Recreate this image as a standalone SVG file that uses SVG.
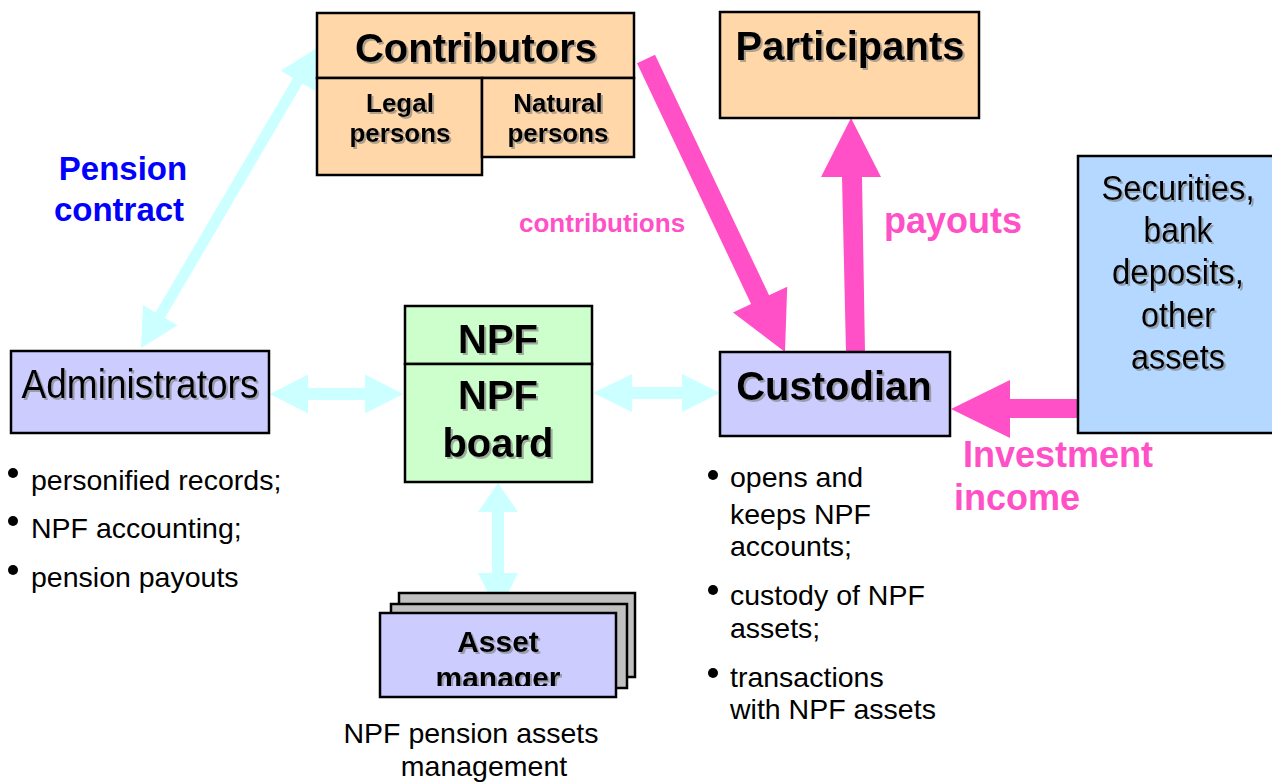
<svg xmlns="http://www.w3.org/2000/svg" width="1272" height="782" viewBox="0 0 1272 782">
  <defs>
    <filter id="shadow" x="-5%" y="-5%" width="115%" height="125%">
      <feDropShadow dx="2" dy="2" stdDeviation="0.6" flood-color="#7a7a7a" flood-opacity="0.6"/>
    </filter>
    <clipPath id="amClip">
      <rect x="380" y="613" width="236" height="73"/>
    </clipPath>
  </defs>
  <style>
    .box { stroke: #000; stroke-width: 2.5; }
    .peach { fill: #FFD7A8; }
    .lav { fill: #CCCCFF; }
    .green { fill: #CCFFCC; }
    .blue { fill: #B4D8FF; }
    .gray { fill: #C0C0C0; }
    .title { font-family: "Liberation Sans", Arial, sans-serif; font-weight: bold; fill: #000; text-anchor: middle; filter: url(#shadow); }
    .narrow { font-family: "Liberation Sans", Arial, sans-serif; fill: #000; text-anchor: middle; filter: url(#shadow); }
    .body { font-family: "Liberation Sans", Arial, sans-serif; font-size: 28.5px; fill: #000; }
    .pinklbl { font-family: "Liberation Sans", Arial, sans-serif; font-weight: bold; fill: #FF50C8; }
    .bluelbl { font-family: "Liberation Sans", Arial, sans-serif; font-weight: bold; fill: #0000FF; font-size: 33px; }
    .cyan { fill: #CCFFFF; }
    .pink { fill: #FF50C8; }
  </style>

  <rect width="1272" height="782" fill="#FFFFFF"/>

  <!-- connectors -->
  <g id="connectors">
    <!-- pension contract: contributors <-> administrators -->
    <polygon class="cyan" points="317,48 315.1,90.9 302.5,83.6 164.9,318 177.5,325.3 141,348 143,305.1 155.5,312.4 293.1,78 280.6,70.7"/>
    <!-- administrators <-> NPF -->
    <polygon class="cyan" points="270,394 308,374.5 308,388 365,388 365,374.5 403,394 365,413.5 365,400 308,400 308,413.5"/>
    <!-- NPF <-> custodian -->
    <polygon class="cyan" points="593,393 632,374 632,387 682,387 682,374 720,393 682,412 682,399 632,399 632,412"/>
    <!-- NPF board <-> asset manager -->
    <polygon class="cyan" points="498,483 518,512 504,512 504,573 518,573 498,613 478,573 492,573 492,512 478,512"/>
    <!-- contributions -->
    <polygon class="pink" points="655,54.7 769.1,295.3 787.2,286.7 785,352 733,312.5 751.1,303.9 637,63.3"/>
    <!-- payouts -->
    <polygon class="pink" points="846,352 865,352 862,177 881,177 851,118 821,177 842,177"/>
    <!-- investment income -->
    <polygon class="pink" points="951,409 1010,380 1010,399 1078,399 1078,418 1010,418 1010,438"/>
  </g>

  <!-- connector labels -->
  <text class="bluelbl" x="123" y="180" text-anchor="middle">Pension</text>
  <text class="bluelbl" x="119" y="221" text-anchor="middle">contract</text>
  <text class="pinklbl" x="519" y="232" font-size="26">contributions</text>
  <text class="pinklbl" x="884" y="233" font-size="36">payouts</text>
  <text class="pinklbl" x="963" y="467" font-size="36">Investment</text>
  <text class="pinklbl" x="954" y="510" font-size="36">income</text>

  <!-- contributors -->
  <g id="contributors">
    <rect class="box peach" x="317" y="13" width="317" height="65"/>
    <rect class="box peach" x="317" y="78" width="165" height="97"/>
    <rect class="box peach" x="482" y="78" width="152" height="79"/>
    <text class="title" x="476" y="62" font-size="40">Contributors</text>
    <text class="title" x="400" y="112" font-size="26">Legal</text>
    <text class="title" x="400" y="142" font-size="26">persons</text>
    <text class="title" x="558" y="112" font-size="26">Natural</text>
    <text class="title" x="558" y="142" font-size="26">persons</text>
  </g>

  <!-- participants -->
  <g id="participants">
    <rect class="box peach" x="720" y="12" width="259" height="106"/>
    <text class="title" x="850" y="60" font-size="40">Participants</text>
  </g>

  <!-- securities and other assets -->
  <g id="assets">
    <rect class="box blue" x="1078" y="156" width="210" height="277"/>
    <text class="narrow" x="1178" y="200" font-size="35" textLength="153" lengthAdjust="spacingAndGlyphs">Securities,</text>
    <text class="narrow" x="1178" y="242" font-size="35" textLength="69" lengthAdjust="spacingAndGlyphs">bank</text>
    <text class="narrow" x="1178" y="284" font-size="35" textLength="132" lengthAdjust="spacingAndGlyphs">deposits,</text>
    <text class="narrow" x="1178" y="327" font-size="35" textLength="74" lengthAdjust="spacingAndGlyphs">other</text>
    <text class="narrow" x="1178" y="369" font-size="35" textLength="94" lengthAdjust="spacingAndGlyphs">assets</text>
  </g>

  <!-- administrators -->
  <g id="administrators">
    <rect class="box lav" x="11" y="351" width="258" height="82"/>
    <text class="narrow" x="140" y="398" font-size="40" textLength="237" lengthAdjust="spacingAndGlyphs">Administrators</text>
  </g>
  <g id="administrators-duties" class="body">
    <circle cx="13" cy="473" r="5"/>
    <text x="31" y="490">personified records;</text>
    <circle cx="13" cy="521" r="5"/>
    <text x="31" y="538">NPF accounting;</text>
    <circle cx="13" cy="570" r="5"/>
    <text x="31" y="587">pension payouts</text>
  </g>

  <!-- NPF and NPF board -->
  <g id="npf">
    <rect class="box green" x="405" y="306" width="187" height="58"/>
    <rect class="box green" x="405" y="364" width="187" height="118"/>
    <text class="title" x="498" y="353" font-size="40">NPF</text>
    <text class="title" x="498" y="409" font-size="40">NPF</text>
    <text class="title" x="498" y="457" font-size="40">board</text>
  </g>

  <!-- custodian -->
  <g id="custodian">
    <rect class="box lav" x="720" y="352" width="230" height="84"/>
    <text class="title" x="834" y="400" font-size="40">Custodian</text>
  </g>
  <g id="custodian-duties" class="body">
    <circle cx="713" cy="475" r="5"/>
    <text x="730" y="487">opens and</text>
    <text x="730" y="524">keeps NPF</text>
    <text x="730" y="556">accounts;</text>
    <circle cx="713" cy="590" r="5"/>
    <text x="730" y="605">custody of NPF</text>
    <text x="730" y="638">assets;</text>
    <circle cx="713" cy="673" r="5"/>
    <text x="730" y="687">transactions</text>
    <text x="730" y="719">with NPF assets</text>
  </g>

  <!-- asset managers (stacked) -->
  <g id="asset-manager">
    <rect class="box gray" x="399" y="593" width="236" height="84"/>
    <rect class="box gray" x="391" y="604" width="236" height="84"/>
    <rect class="box lav" x="380" y="613" width="236" height="84"/>
    <g clip-path="url(#amClip)">
      <text class="title" x="498" y="652" font-size="30">Asset</text>
      <text class="title" x="498" y="688" font-size="30">manager</text>
    </g>
  </g>
  <g id="asset-manager-caption" class="body" text-anchor="middle">
    <text x="471" y="743">NPF pension assets</text>
    <text x="484" y="776">management</text>
  </g>
</svg>
